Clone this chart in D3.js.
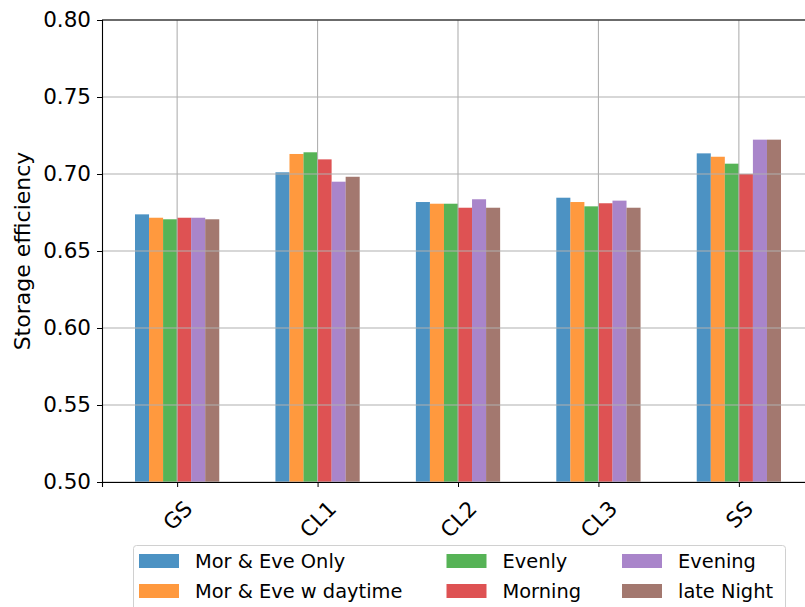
<!DOCTYPE html>
<html>
<head>
<meta charset="utf-8">
<script src="https://cdn.jsdelivr.net/npm/d3@7"></script>
<style>
  html, body { margin: 0; padding: 0; background: #fff; }
  svg { display: block; font-family: "DejaVu Sans", sans-serif; }
</style>
</head>
<body>
<svg id="chart" width="805" height="607"></svg>
<script>
// Scenario groups on the x axis
const categories = ["GS", "CL1", "CL2", "CL3", "SS"];

// Storage efficiency per scheduling strategy (one value per scenario)
const morEveOnly    = [0.6738, 0.7011, 0.6818, 0.6846, 0.7134];
const morEveDaytime = [0.6716, 0.7130, 0.6807, 0.6818, 0.7112];
const evenly        = [0.6706, 0.7141, 0.6807, 0.6790, 0.7067];
const morning       = [0.6716, 0.7095, 0.6781, 0.6810, 0.7000];
const evening       = [0.6716, 0.6950, 0.6836, 0.6827, 0.7223];
const lateNight     = [0.6706, 0.6982, 0.6781, 0.6781, 0.7223];

const seriesNames = ["Mor & Eve Only", "Mor & Eve w daytime", "Evenly", "Morning", "Evening", "late Night"];
const seriesValues = [morEveOnly, morEveDaytime, evenly, morning, evening, lateNight];
const seriesColors = ["#1f77b4", "#ff7f0e", "#2ca02c", "#d62728", "#9467bd", "#8c564b"];

const yTicks = [0.50, 0.55, 0.60, 0.65, 0.70, 0.75, 0.80];

const svg = d3.select("#chart");
const margin = { left: 102, top: 20, bottom: 482 };
const barWidth = 0.1;

// Category index scale; the plot area runs a little past the right edge of the page
const x = d3.scaleLinear().domain([-0.535, 4.535]).range([margin.left, margin.left + 712]);
const y = d3.scaleLinear().domain([0.5, 0.8]).range([margin.bottom, margin.top]);

const plot = svg.append("g");

// Bars
seriesValues.forEach((vals, s) => {
  plot.append("g")
    .selectAll("rect")
    .data(vals)
    .join("rect")
    .attr("x", (d, i) => x(i + (s - 3) * barWidth))
    .attr("width", x(barWidth) - x(0))
    .attr("y", d => y(d))
    .attr("height", d => y(0.5) - y(d))
    .attr("fill", seriesColors[s])
    .attr("fill-opacity", 0.8);
});

// Grid lines (drawn over the bars)
const grid = svg.append("g").attr("stroke", "#b0b0b0").attr("stroke-width", 1.1);
grid.selectAll("line.h").data(yTicks).join("line")
  .attr("class", "h")
  .attr("x1", x.range()[0]).attr("x2", x.range()[1])
  .attr("y1", d => y(d)).attr("y2", d => y(d));
grid.selectAll("line.v").data(categories).join("line")
  .attr("class", "v")
  .attr("x1", (d, i) => x(i)).attr("x2", (d, i) => x(i))
  .attr("y1", y.range()[1]).attr("y2", y.range()[0]);

// Y axis
const yAxis = svg.append("g")
  .attr("transform", `translate(${margin.left},0)`)
  .call(d3.axisLeft(y).tickValues(yTicks).tickFormat(d3.format(".2f")).tickSizeOuter(0).tickSize(5).tickPadding(6));
yAxis.selectAll("text").attr("font-size", 21.5).attr("fill", "#000").attr("font-family", "DejaVu Sans");
yAxis.select(".domain").attr("stroke", "#000").attr("stroke-width", 1.1);

// X axis
const xAxis = svg.append("g")
  .attr("transform", `translate(0,${margin.bottom})`)
  .call(d3.axisBottom(x).tickValues(d3.range(categories.length)).tickFormat(i => categories[i]).tickSizeOuter(0).tickSize(5));
xAxis.select(".domain").attr("stroke", "#000").attr("stroke-width", 1.1);
xAxis.selectAll("text")
  .attr("font-size", 21.5)
  .attr("font-family", "DejaVu Sans")
  .attr("fill", "#000")
  .attr("text-anchor", "middle")
  .attr("dy", null)
  .attr("y", null)
  .attr("dominant-baseline", "central")
  .each(function () {
    const t = d3.select(this);
    const bb = this.getBBox();
    const h = (bb.width + bb.height) / Math.SQRT2;
    t.attr("transform", `translate(0,${14 + h / 2}) rotate(-45)`);
  });

// Top spine
svg.append("line")
  .attr("x1", x.range()[0]).attr("x2", x.range()[1])
  .attr("y1", y(0.8)).attr("y2", y(0.8))
  .attr("stroke", "#000").attr("stroke-width", 1.1);

// Y axis title
svg.append("text")
  .attr("transform", `translate(22,${(y(0.5) + y(0.8)) / 2}) rotate(-90)`)
  .attr("text-anchor", "middle")
  .attr("dominant-baseline", "central")
  .attr("font-size", 22)
  .attr("fill", "#000")
  .text("Storage efficiency");

// Legend: three columns, two rows
const legend = svg.append("g");
legend.append("rect")
  .attr("x", 133.5).attr("y", 545.5).attr("width", 652).attr("height", 70).attr("rx", 3)
  .attr("fill", "#fff").attr("fill-opacity", 0.8)
  .attr("stroke", "#d0d0d0").attr("stroke-width", 1);
const colX = [139, 446.5, 622];
const rowY = [561, 591];
seriesNames.forEach((name, s) => {
  const c = Math.floor(s / 2), r = s % 2;
  const g = legend.append("g").attr("transform", `translate(${colX[c]},${rowY[r]})`);
  g.append("rect").attr("x", 0).attr("y", -7).attr("width", 40).attr("height", 14)
    .attr("fill", seriesColors[s]).attr("fill-opacity", 0.8);
  g.append("text").attr("x", 56).attr("y", 0).attr("dominant-baseline", "central")
    .attr("font-size", 19.4).attr("fill", "#000").text(name);
});
</script>
</body>
</html>
